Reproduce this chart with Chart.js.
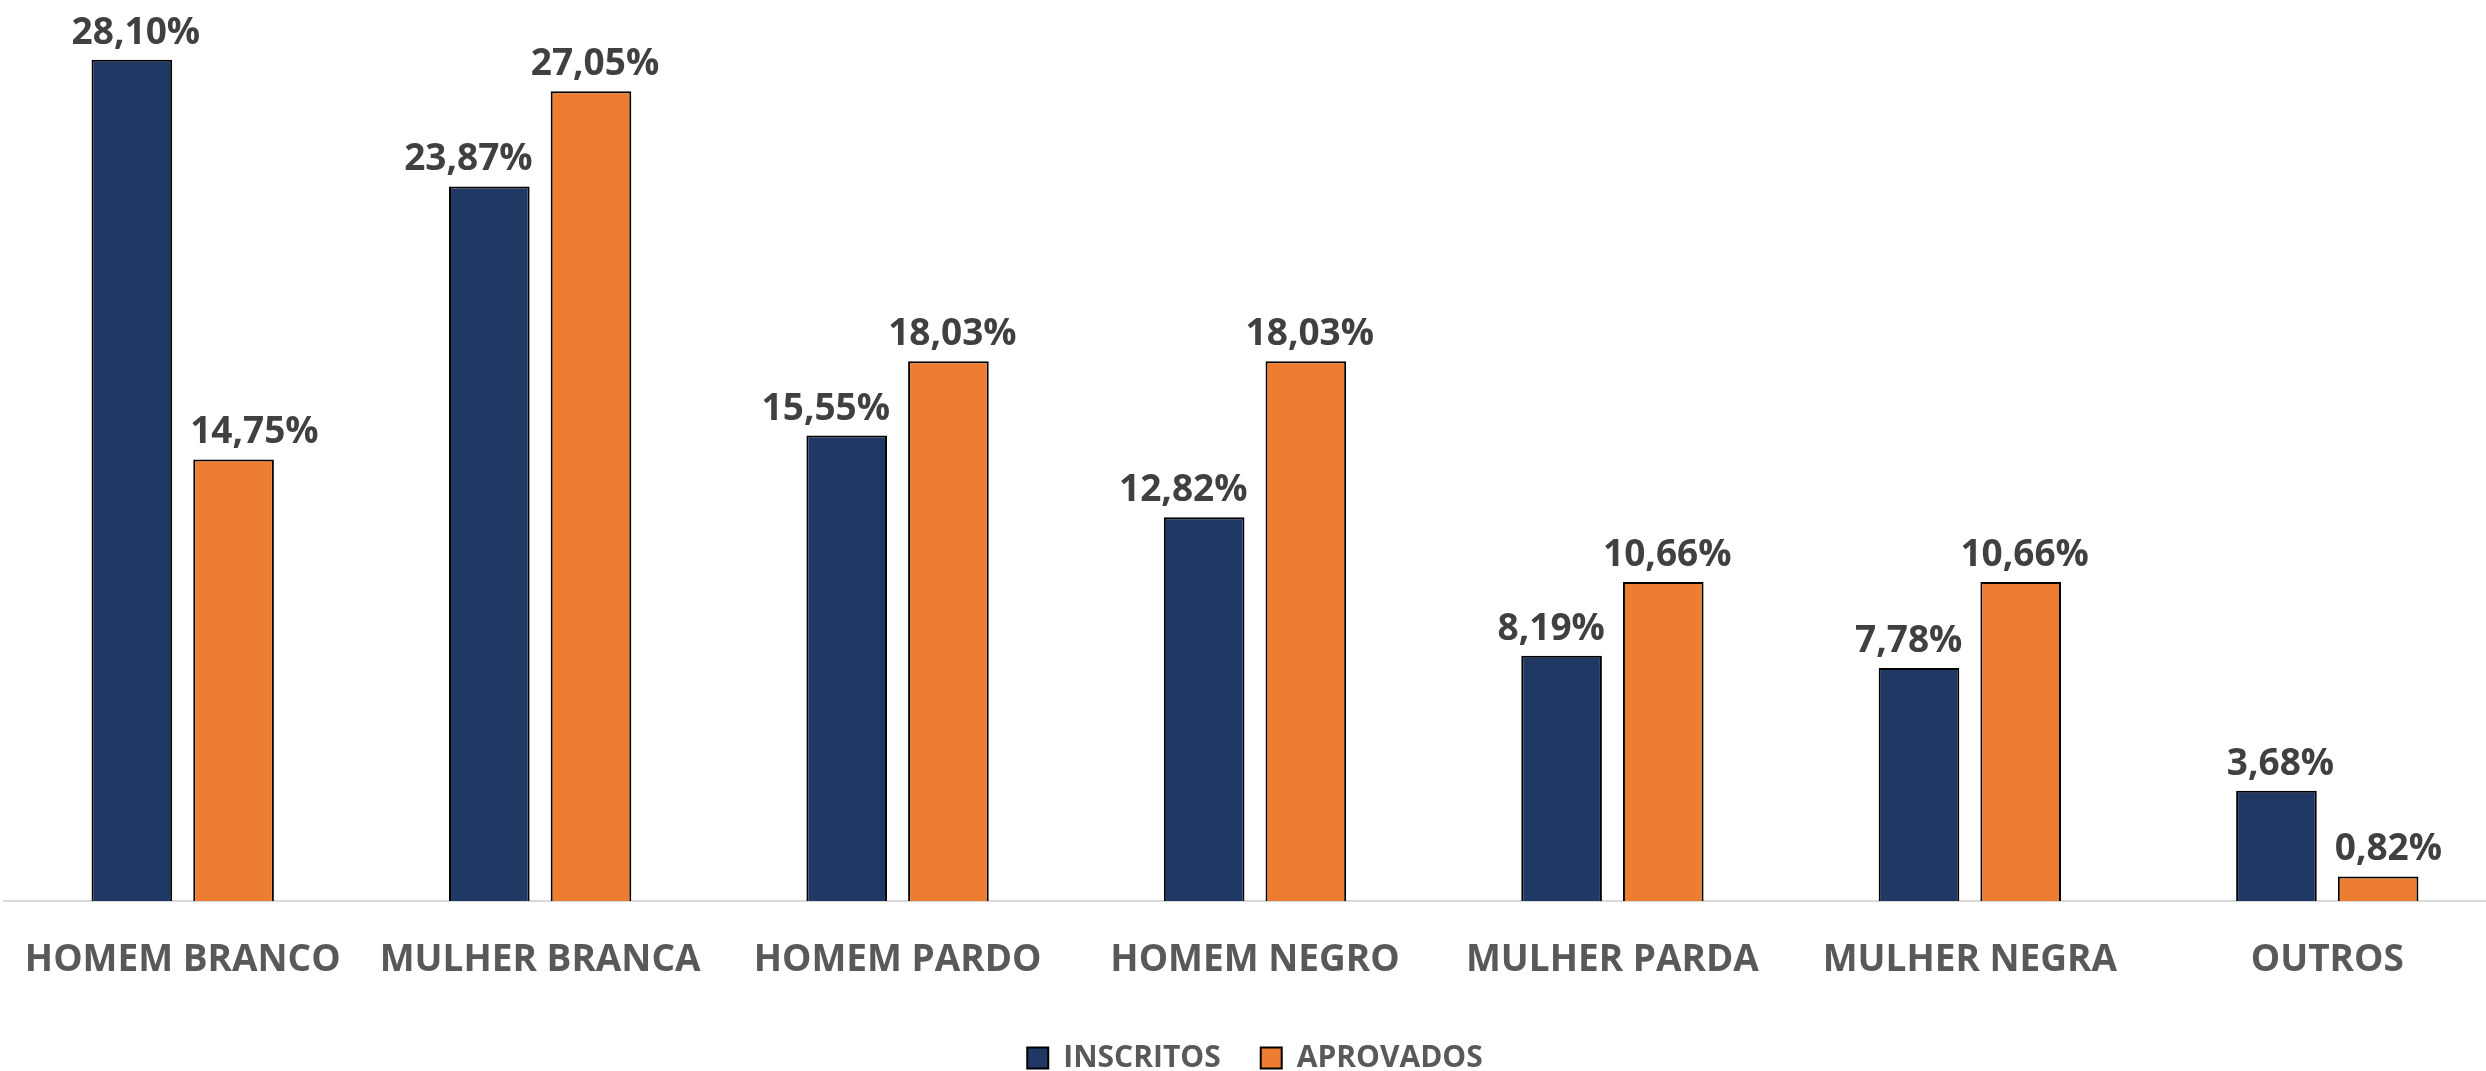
<!DOCTYPE html>
<html lang="pt-BR">
<head>
<meta charset="utf-8">
<title>Inscritos x Aprovados</title>
<script src="https://cdn.jsdelivr.net/npm/chart.js@4.4.1/dist/chart.umd.min.js"></script>
<style>
    html, body { margin: 0; padding: 0; background: #fff; overflow: hidden; }
    /* o grafico passa um pouco da janela na direita e embaixo, igual a imagem original */
    #caixa { position: relative; width: 2506px; height: 1083px; }
</style>
</head>
<body>
<div id="caixa"><canvas id="graficoPerfil"></canvas></div>
<script>
// Dados do grafico
const categorias = ['HOMEM BRANCO', 'MULHER BRANCA', 'HOMEM PARDO', 'HOMEM NEGRO', 'MULHER PARDA', 'MULHER NEGRA', 'OUTROS'];
const inscritos = [28.10, 23.87, 15.55, 12.82, 8.19, 7.78, 3.68];
const aprovados = [14.75, 27.05, 18.03, 18.03, 10.66, 10.66, 0.82];

const FONTE = "'Open Sans', 'DejaVu Sans', sans-serif";
const FOLGA_ROTULO = 18; // distancia minima entre o rotulo e a barra vizinha

// Formata no padrao brasileiro (virgula)
function formatarPct(valor) {
    return valor.toFixed(2).replace('.', ',') + '%';
}

// Plugin simples pra escrever o valor em cima de cada barra
// se o rotulo bater na barra do lado (mais alta) ele e empurrado pro lado
const rotulosBarras = {
    id: 'rotulosBarras',
    afterDatasetsDraw(chart) {
        const ctx = chart.ctx;
        ctx.save();
        ctx.font = 'bold 37px ' + FONTE;
        ctx.fillStyle = '#404040';
        ctx.textAlign = 'center';
        ctx.textBaseline = 'alphabetic';
        const metas = [chart.getDatasetMeta(0), chart.getDatasetMeta(1)];
        chart.data.datasets.forEach(function (dataset, i) {
            metas[i].data.forEach(function (barra, j) {
                const texto = formatarPct(dataset.data[j]);
                const largura = ctx.measureText(texto).width;
                const yTexto = barra.y - 16;
                let xTexto = barra.x + 4;

                const vizinha = metas[1 - i].data[j];
                if (vizinha.y < yTexto) {
                    if (i === 0) {
                        // vizinha fica na direita
                        const limite = vizinha.x - vizinha.width / 2 - FOLGA_ROTULO;
                        if (xTexto + largura / 2 > limite) xTexto = limite - largura / 2;
                    } else {
                        // vizinha fica na esquerda
                        const limite = vizinha.x + vizinha.width / 2 + FOLGA_ROTULO;
                        if (xTexto - largura / 2 < limite) xTexto = limite + largura / 2;
                    }
                }
                ctx.fillText(texto, xTexto, yTexto);
            });
        });
        ctx.restore();
    }
};

function desenhar() {
    const contexto = document.getElementById('graficoPerfil').getContext('2d');
    new Chart(contexto, {
        type: 'bar',
        data: {
            labels: categorias,
            datasets: [{
                label: 'INSCRITOS',
                data: inscritos,
                backgroundColor: '#203864',
                borderColor: '#000000',
                borderWidth: 2,
                categoryPercentage: 0.569,
                barPercentage: 0.793
            }, {
                label: 'APROVADOS',
                data: aprovados,
                backgroundColor: '#ED7D31',
                borderColor: '#000000',
                borderWidth: 2,
                categoryPercentage: 0.569,
                barPercentage: 0.793
            }]
        },
        options: {
            responsive: true,
            maintainAspectRatio: false,
            animation: false,
            layout: { padding: { top: 3, left: 4, right: 0, bottom: 0 } },
            plugins: {
                tooltip: { enabled: false },
                legend: {
                    position: 'bottom',
                    labels: {
                        boxWidth: 21,
                        boxHeight: 21,
                        padding: 40,
                        color: '#595959',
                        font: { family: FONTE, size: 30, weight: 'bold' }
                    }
                }
            },
            scales: {
                x: {
                    // tick invisivel so pra empurrar os nomes pra baixo sem mexer na largura
                    grid: {
                        display: true,
                        drawOnChartArea: false,
                        drawTicks: true,
                        tickLength: 37,
                        color: 'rgba(0,0,0,0)'
                    },
                    border: { display: true, color: '#D9D9D9', width: 2 },
                    ticks: {
                        padding: 0,
                        color: '#595959',
                        maxRotation: 0,
                        autoSkip: false,
                        font: { family: FONTE, size: 37, weight: 'bold' }
                    },
                    // espaco extra entre os nomes e a legenda
                    afterFit: function (escala) { escala.height = 102; }
                },
                y: {
                    display: false,
                    min: 0,
                    max: 30
                }
            }
        },
        plugins: [rotulosBarras]
    });
}

// Espera a fonte carregar antes de desenhar
document.fonts.load("bold 36px 'Open Sans'").then(desenhar, desenhar);
</script>
</body>
</html>
